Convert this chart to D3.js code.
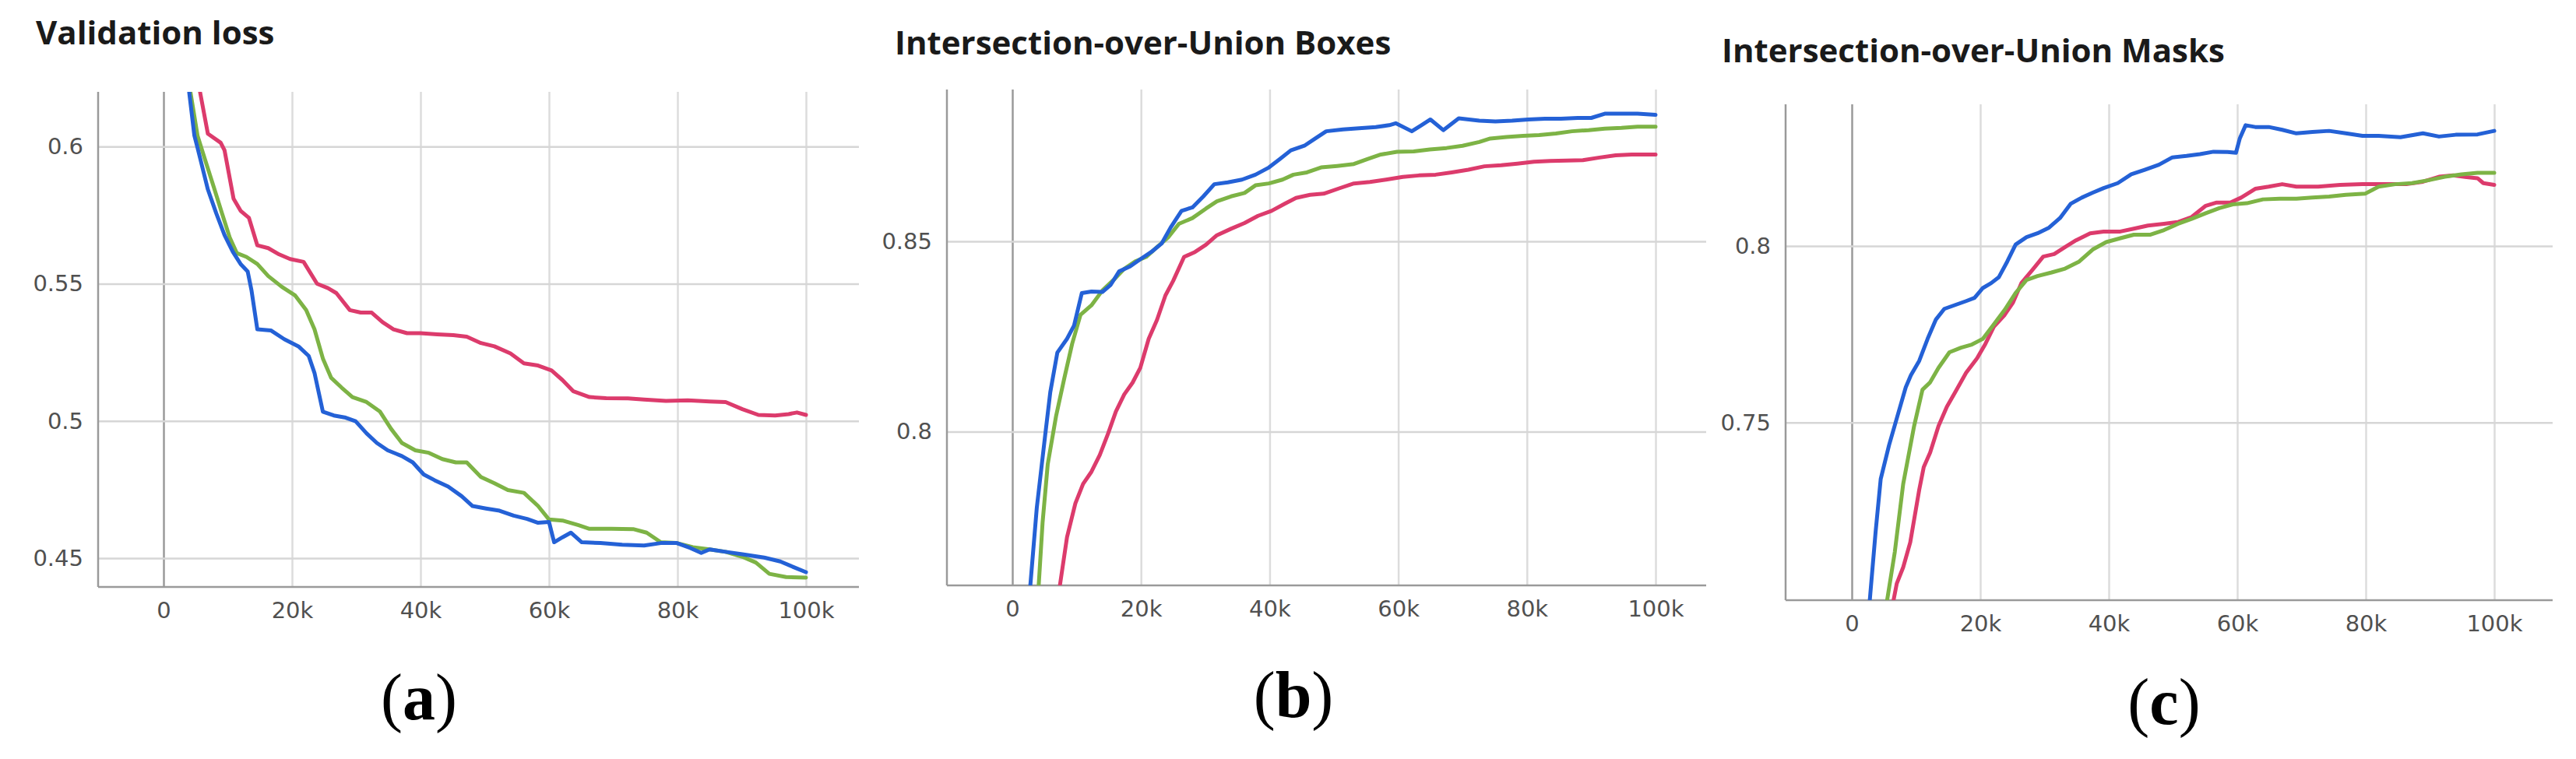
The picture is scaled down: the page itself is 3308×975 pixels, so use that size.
<!DOCTYPE html>
<html>
<head>
<meta charset="utf-8">
<script src="https://cdn.jsdelivr.net/npm/d3@7"></script>
<style>
  body { margin: 0; background: #fff; }
</style>
</head>
<body>
<svg id="chart" width="3308" height="975"></svg>
<script>
// steps are in thousands
const lossRed = [[4.9,0.64],[5.7,0.6197],[6.9,0.6047],[8.9,0.6014],[9.5,0.5986],[10.9,0.581],[12.0,0.5766],[13.3,0.574],[14.6,0.564],[16.3,0.563],[18.0,0.5607],[19.7,0.559],[21.8,0.558],[23.9,0.550],[25.6,0.5484],[26.9,0.5466],[29.0,0.5404],[30.7,0.5395],[32.4,0.5395],[34.1,0.536],[35.8,0.5334],[37.9,0.532],[40.0,0.532],[42.6,0.5316],[45.1,0.5313],[47.2,0.5307],[49.4,0.5284],[51.5,0.5272],[54.0,0.5246],[56.1,0.521],[58.3,0.5202],[60.4,0.5184],[62.1,0.5149],[63.8,0.5108],[66.3,0.5087],[68.9,0.5083],[72.3,0.5082],[74.8,0.5078],[78.2,0.5073],[81.6,0.5075],[85.0,0.5071],[87.5,0.5069],[90.1,0.5043],[92.6,0.5022],[95.2,0.502],[97.3,0.5025],[98.6,0.5031],[100,0.5022]];
const lossGreen = [[3.6,0.64],[4.2,0.6197],[5.3,0.6039],[6.5,0.595],[7.8,0.5854],[9.1,0.5757],[10.3,0.5669],[11.4,0.5612],[12.9,0.5598],[14.6,0.5572],[16.3,0.5528],[18.4,0.5489],[20.5,0.5457],[22.2,0.5404],[23.5,0.5334],[24.8,0.5228],[26.1,0.5157],[27.7,0.5122],[29.4,0.5087],[31.6,0.5069],[33.7,0.5034],[35.4,0.4972],[37.1,0.492],[39.2,0.4893],[41.3,0.4884],[43.4,0.4861],[45.5,0.4849],[47.2,0.4849],[49.4,0.4796],[51.5,0.4773],[53.6,0.4748],[56.1,0.4738],[58.3,0.469],[60.0,0.4641],[62.1,0.4637],[64.6,0.462],[66.3,0.4607],[69.7,0.4607],[73.1,0.4606],[75.2,0.4593],[77.4,0.4558],[79.9,0.4555],[82.4,0.454],[85.0,0.4532],[87.5,0.4523],[90.1,0.4505],[92.2,0.4484],[94.3,0.4443],[96.9,0.4431],[100,0.4429]];
const lossBlue = [[3.4,0.64],[4.0,0.6197],[4.8,0.604],[5.3,0.5995],[6.9,0.5844],[8.2,0.5757],[9.5,0.5677],[10.8,0.5616],[12.0,0.5572],[13.1,0.5545],[13.7,0.5475],[14.6,0.5334],[16.7,0.533],[18.8,0.5298],[21.0,0.5272],[22.6,0.5237],[23.5,0.5175],[24.8,0.5034],[26.5,0.502],[28.2,0.5013],[29.9,0.4999],[31.6,0.4955],[33.2,0.492],[34.9,0.4893],[37.1,0.4872],[38.8,0.4849],[40.5,0.4805],[42.2,0.4784],[44.3,0.4761],[46.4,0.4726],[48.1,0.469],[50.2,0.4681],[52.3,0.4673],[54.5,0.4655],[56.6,0.4643],[58.3,0.4629],[60.0,0.4632],[60.8,0.4558],[62.1,0.4576],[63.4,0.4593],[65.1,0.4558],[68.0,0.4555],[71.4,0.4549],[74.8,0.4546],[77.4,0.4555],[79.9,0.4555],[82.0,0.4537],[83.7,0.4519],[85.0,0.4532],[87.5,0.4523],[90.1,0.4514],[93.5,0.4502],[96.0,0.4488],[98.1,0.4467],[100,0.4449]];

const boxRed = [[6.8,0.74],[7.4,0.7597],[8.5,0.7723],[9.8,0.7812],[11.0,0.7863],[12.3,0.7895],[13.6,0.7939],[14.9,0.7996],[16.1,0.8053],[17.4,0.8098],[18.7,0.8129],[19.9,0.8168],[21.2,0.8244],[22.5,0.8294],[23.8,0.8358],[25.0,0.8396],[26.7,0.8459],[28.4,0.8472],[30.1,0.8491],[31.8,0.8516],[34.0,0.8533],[36.1,0.8548],[38.2,0.8567],[40.3,0.858],[42.4,0.8599],[44.1,0.8614],[46.3,0.8622],[48.4,0.8625],[50.8,0.8639],[53.1,0.8652],[55.6,0.8656],[58.1,0.8662],[60.7,0.8669],[63.2,0.8673],[65.8,0.8675],[68.3,0.8681],[70.9,0.8688],[73.4,0.8697],[76.0,0.87],[78.5,0.8704],[81.1,0.8709],[83.6,0.8711],[86.2,0.8712],[88.7,0.8713],[91.3,0.872],[93.8,0.8726],[96.3,0.8728],[100,0.8728]];
const boxGreen = [[3.6,0.74],[4.1,0.7597],[4.7,0.7761],[5.5,0.7914],[6.8,0.8041],[8.1,0.8142],[9.3,0.8231],[10.6,0.8307],[12.3,0.8332],[14.0,0.8371],[15.7,0.8398],[17.4,0.8428],[19.1,0.8447],[20.8,0.8459],[22.5,0.8485],[24.2,0.851],[25.9,0.8546],[28.0,0.8561],[30.1,0.8586],[31.8,0.8605],[34.0,0.8618],[36.1,0.8627],[37.8,0.8647],[39.9,0.8652],[42.0,0.8662],[43.7,0.8675],[45.8,0.8681],[48.0,0.8694],[50.5,0.8698],[53.1,0.8703],[55.2,0.8716],[57.3,0.8728],[59.8,0.8735],[62.4,0.8736],[64.9,0.8741],[67.5,0.8745],[70.0,0.8751],[72.6,0.8761],[74.3,0.877],[76.8,0.8774],[79.4,0.8777],[81.9,0.8779],[84.5,0.8783],[87.0,0.8789],[89.6,0.8792],[92.1,0.8796],[94.7,0.8798],[97.2,0.8801],[100,0.8801]];
const boxBlue = [[2.3,0.74],[2.8,0.7597],[3.8,0.78],[5.1,0.799],[5.9,0.8104],[7.0,0.8208],[8.5,0.8244],[9.6,0.8279],[10.8,0.8364],[12.3,0.8368],[14.0,0.8367],[15.3,0.8386],[16.6,0.8421],[18.3,0.8434],[19.9,0.8453],[21.6,0.8472],[23.2,0.8494],[24.6,0.8536],[26.3,0.858],[28.0,0.8589],[29.7,0.8618],[31.4,0.865],[33.5,0.8655],[35.7,0.8662],[37.8,0.8675],[39.9,0.8694],[41.6,0.8716],[43.3,0.8739],[45.4,0.8751],[47.1,0.877],[48.8,0.8789],[51.4,0.8794],[53.9,0.8797],[56.5,0.88],[58.6,0.8805],[59.6,0.881],[62.1,0.8789],[63.6,0.8805],[65.0,0.882],[67.0,0.8792],[69.4,0.8823],[72.6,0.8817],[75.1,0.8815],[77.7,0.8817],[80.2,0.882],[82.8,0.8822],[85.3,0.8822],[87.9,0.8824],[90.0,0.8824],[92.1,0.8835],[94.7,0.8835],[97.2,0.8835],[100,0.8832]];

const maskRed = [[6.0,0.68],[6.5,0.6997],[7.0,0.7044],[8.0,0.709],[9.1,0.7161],[10.5,0.731],[11.2,0.7374],[12.2,0.7415],[13.5,0.749],[14.8,0.7545],[16.1,0.7586],[17.8,0.7641],[19.5,0.7682],[20.8,0.7723],[22.1,0.7771],[23.8,0.7805],[25.1,0.784],[26.4,0.7895],[28.1,0.7932],[29.8,0.797],[31.5,0.7977],[33.2,0.7997],[34.9,0.8016],[37.1,0.8036],[39.2,0.8041],[41.8,0.8041],[43.9,0.8049],[46.1,0.8058],[48.6,0.8063],[50.8,0.8068],[52.9,0.8082],[55.1,0.8114],[56.8,0.8123],[58.9,0.8123],[60.6,0.8137],[62.8,0.8162],[64.9,0.8168],[67.0,0.8175],[69.2,0.8168],[72.6,0.8168],[76.0,0.8173],[79.5,0.8175],[82.9,0.8175],[86.3,0.8175],[88.9,0.8182],[91.4,0.8196],[93.6,0.82],[95.7,0.8195],[97.4,0.8192],[98.3,0.8178],[100,0.8173]];
const maskGreen = [[5.0,0.68],[5.5,0.6997],[6.7,0.7134],[8.0,0.7326],[9.7,0.749],[11.0,0.7593],[12.2,0.7614],[13.5,0.7655],[15.2,0.7699],[17.0,0.7712],[18.7,0.7721],[20.4,0.7737],[22.1,0.7778],[23.8,0.7819],[25.5,0.7867],[27.2,0.7904],[28.9,0.7915],[31.1,0.7925],[33.2,0.7936],[35.4,0.7956],[37.5,0.799],[39.6,0.8011],[41.8,0.8022],[43.9,0.8032],[46.5,0.8032],[48.6,0.8045],[50.8,0.8063],[52.9,0.8077],[55.1,0.8093],[57.2,0.8107],[59.3,0.8118],[61.5,0.8121],[64.0,0.8132],[66.6,0.8134],[69.2,0.8134],[71.7,0.8137],[74.3,0.814],[76.9,0.8145],[79.9,0.8148],[82.0,0.8168],[84.6,0.8175],[87.2,0.8178],[89.7,0.8186],[92.3,0.8196],[94.9,0.8203],[97.4,0.8207],[100,0.8207]];
const maskBlue = [[2.2,0.68],[2.8,0.6997],[3.7,0.7189],[4.5,0.734],[5.8,0.7436],[7.1,0.7518],[8.4,0.76],[9.2,0.7634],[10.5,0.7675],[11.8,0.7737],[13.1,0.7792],[14.4,0.7822],[16.1,0.7833],[17.8,0.7844],[19.1,0.7853],[20.4,0.7881],[21.7,0.7895],[22.9,0.7912],[24.2,0.7956],[25.5,0.8004],[27.2,0.8025],[28.9,0.8036],[30.7,0.8052],[32.4,0.8079],[34.1,0.812],[35.8,0.8137],[37.5,0.8151],[39.2,0.8164],[41.4,0.8178],[43.5,0.8203],[45.6,0.8216],[47.8,0.823],[49.9,0.8251],[52.1,0.8255],[54.2,0.826],[56.3,0.8267],[58.5,0.8266],[59.8,0.8264],[60.4,0.8305],[61.3,0.8342],[62.8,0.8337],[64.9,0.8337],[67.0,0.8329],[69.2,0.8319],[71.7,0.8323],[74.3,0.8326],[76.9,0.8319],[79.5,0.8312],[82.0,0.8312],[85.4,0.8308],[88.9,0.8319],[91.4,0.831],[94.0,0.8315],[97.4,0.8316],[100,0.8326]];

const xTicks = [0, 20, 40, 60, 80, 100];
const lossTicks = [0.45, 0.5, 0.55, 0.6];
const boxTicks = [0.8, 0.85];
const maskTicks = [0.75, 0.8];
const titles = ["Validation loss", "Intersection-over-Union Boxes", "Intersection-over-Union Masks"];
const panelLabels = ["a", "b", "c"];

const colors = { red: "#dc3b6c", green: "#7db345", blue: "#2461d6" };

// layout of each small chart (pixel boxes)
const panels = [
  { series: [lossRed, lossGreen, lossBlue], yTicks: lossTicks,
    left: 126, right: 1103, top: 118, bottom: 754, x0: 210, x100: 1035,
    yDom: [0.45, 0.6], yRng: [717, 188.3], titleX: 46, titleY: 57, titleW: 309,
    labelX: 538, labelY: 924 },
  { series: [boxRed, boxGreen, boxBlue], yTicks: boxTicks,
    left: 1216, right: 2191, top: 115, bottom: 752, x0: 1300, x100: 2126,
    yDom: [0.8, 0.85], yRng: [554.6, 310], titleX: 1149, titleY: 70, titleW: 649,
    labelX: 1661, labelY: 921 },
  { series: [maskRed, maskGreen, maskBlue], yTicks: maskTicks,
    left: 2293, right: 3278, top: 134, bottom: 771, x0: 2378, x100: 3203,
    yDom: [0.75, 0.8], yRng: [542.8, 316], titleX: 2211, titleY: 80, titleW: 657,
    labelX: 2779, labelY: 930 }
];

const svg = d3.select("#chart");
svg.append("rect").attr("width", 3308).attr("height", 975).attr("fill", "#fff");

const seriesColors = [colors.red, colors.green, colors.blue];
const tickFont = "DejaVu Sans, Verdana, sans-serif";

panels.forEach((p, i) => {
  const x = d3.scaleLinear().domain([0, 100]).range([p.x0, p.x100]);
  const y = d3.scaleLinear().domain(p.yDom).range(p.yRng);
  const g = svg.append("g");

  // vertical grid + x labels
  const xAxis = d3.axisBottom(x)
    .tickValues(xTicks)
    .tickSize(-(p.bottom - p.top))
    .tickPadding(19)
    .tickFormat((d) => (d === 0 ? "0" : d + "k"));
  const gx = g.append("g").attr("transform", `translate(0,${p.bottom})`).call(xAxis);
  gx.select(".domain").remove();
  gx.selectAll(".tick line")
    .attr("stroke", (d) => (d === 0 ? "#9a9a9a" : "#dcdcdc"))
    .attr("stroke-width", 2.5);
  gx.selectAll(".tick text")
    .attr("fill", "#505050")
    .attr("font-family", tickFont)
    .attr("font-size", 29);

  // horizontal grid + y labels
  const yAxis = d3.axisLeft(y)
    .tickValues(p.yTicks)
    .tickSize(-(p.right - p.left))
    .tickPadding(19)
    .tickFormat(d3.format(""));
  const gy = g.append("g").attr("transform", `translate(${p.left},0)`).call(yAxis);
  gy.select(".domain").remove();
  gy.selectAll(".tick line").attr("stroke", "#d6d6d6").attr("stroke-width", 2.5);
  gy.selectAll(".tick text")
    .attr("fill", "#505050")
    .attr("font-family", tickFont)
    .attr("font-size", 29);

  // axis frame
  g.append("line")
    .attr("x1", p.left).attr("x2", p.left).attr("y1", p.top).attr("y2", p.bottom)
    .attr("stroke", "#9a9a9a").attr("stroke-width", 2.5);
  g.append("line")
    .attr("x1", p.left).attr("x2", p.right).attr("y1", p.bottom).attr("y2", p.bottom)
    .attr("stroke", "#9a9a9a").attr("stroke-width", 2.5);

  // curves, clipped to plot box
  const clipId = "clip" + i;
  svg.append("clipPath").attr("id", clipId)
    .append("rect")
    .attr("x", p.left).attr("y", p.top)
    .attr("width", p.right - p.left).attr("height", p.bottom - p.top);

  const line = d3.line().x((d) => x(d[0])).y((d) => y(d[1]));
  const gl = g.append("g").attr("clip-path", `url(#${clipId})`);
  p.series.forEach((s, j) => {
    gl.append("path")
      .datum(s)
      .attr("d", line)
      .attr("fill", "none")
      .attr("stroke", seriesColors[j])
      .attr("stroke-width", 5)
      .attr("stroke-linejoin", "round")
      .attr("stroke-linecap", "round");
  });

  // title, sized to the measured width
  const t = g.append("text")
    .attr("x", p.titleX).attr("y", p.titleY)
    .attr("font-family", "Open Sans, sans-serif")
    .attr("font-weight", 700)
    .attr("font-size", 37)
    .attr("fill", "#1a1a1a")
    .text(titles[i]);
  const w = t.node().getComputedTextLength();
  if (w > 0) t.attr("font-size", Math.max(32, Math.min(42, 37 * p.titleW / w)));

  // panel label like (a)
  const lab = g.append("text")
    .attr("x", p.labelX).attr("y", p.labelY)
    .attr("text-anchor", "middle")
    .attr("font-family", "Liberation Serif, Times New Roman, serif")
    .attr("font-size", 84)
    .attr("fill", "#000");
  lab.append("tspan").text("(");
  lab.append("tspan").attr("font-weight", 700).text(panelLabels[i]);
  lab.append("tspan").text(")");
});
</script>
</body>
</html>
